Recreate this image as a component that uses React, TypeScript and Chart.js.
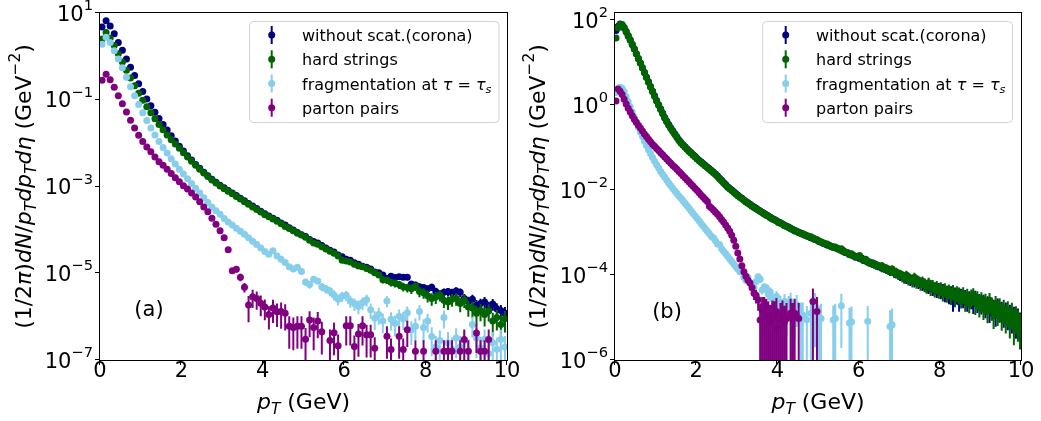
import React, { useEffect, useRef } from 'react';
import { Chart, registerables } from 'chart.js';

Chart.register(...registerables);

// ---------------- labels & styling data ----------------
const seriesNames = ['without scat.(corona)', 'hard strings', 'fragmentation at τ = τ_s', 'parton pairs'];
const seriesColors = ['#000080', '#006400', '#87ceeb', '#800080'];
const xTickValues = [0, 2, 4, 6, 8, 10];
const yTickExpA = [1, -1, -3, -5, -7];
const yTickExpB = [2, 0, -2, -4, -6];

// ---------------- panel (a): pT bin centres (GeV) ----------------
const xA = [
  0.05, 0.15, 0.25, 0.35, 0.45, 0.55, 0.65, 0.75, 0.85, 0.95,
  1.05, 1.15, 1.25, 1.35, 1.45, 1.55, 1.65, 1.75, 1.85, 1.95,
  2.05, 2.15, 2.25, 2.35, 2.45, 2.55, 2.65, 2.75, 2.85, 2.95,
  3.05, 3.15, 3.25, 3.35, 3.45, 3.55, 3.65, 3.75, 3.85, 3.95,
  4.05, 4.15, 4.25, 4.35, 4.45, 4.55, 4.65, 4.75, 4.85, 4.95,
  5.05, 5.15, 5.25, 5.35, 5.45, 5.55, 5.65, 5.75, 5.85, 5.95,
  6.05, 6.15, 6.25, 6.35, 6.45, 6.55, 6.65, 6.75, 6.85, 6.95,
  7.05, 7.15, 7.25, 7.35, 7.45, 7.55, 7.65, 7.75, 7.85, 7.95,
  8.05, 8.15, 8.25, 8.35, 8.45, 8.55, 8.65, 8.75, 8.85, 8.95,
  9.05, 9.15, 9.25, 9.35, 9.45, 9.55, 9.65, 9.75, 9.85, 9.95,
];

// log10 of (1/2pi) dN/pT dpT deta
const logCoronaA = [
  0.68, 0.82, 0.70, 0.52, 0.32, 0.14, -0.06, -0.25, -0.44, -0.63,
  -0.81, -0.98, -1.14, -1.29, -1.43, -1.57, -1.70, -1.83, -1.95, -2.07,
  -2.18, -2.29, -2.39, -2.49, -2.58, -2.67, -2.75, -2.83, -2.90, -2.97,
  -3.03, -3.09, -3.15, -3.21, -3.27, -3.33, -3.39, -3.45, -3.51, -3.57,
  -3.63, -3.68, -3.73, -3.78, -3.84, -3.89, -3.95, -4.00, -4.06, -4.11,
  -4.15, -4.22, -4.27, -4.30, -4.36, -4.42, -4.47, -4.51, -4.58, -4.62,
  -4.68, -4.70, -4.76, -4.79, -4.84, -4.86, -4.90, -4.97, -4.99, -5.04,
  -5.12, -5.07, -5.10, -5.08, -5.09, -5.09, -5.25, -5.27, -5.31, -5.33,
  -5.36, -5.32, -5.42, -5.48, -5.44, -5.42, -5.45, -5.41, -5.44, -5.58,
  -5.65, -5.60, -5.74, -5.70, -5.66, -5.78, -5.71, -5.82, -5.86, -5.92,
];
const logHardA = [
  0.40, 0.55, 0.42, 0.25, 0.06, -0.13, -0.32, -0.50, -0.68, -0.85,
  -1.01, -1.16, -1.30, -1.44, -1.57, -1.69, -1.81, -1.92, -2.02, -2.12,
  -2.22, -2.32, -2.42, -2.51, -2.60, -2.69, -2.77, -2.85, -2.92, -2.99,
  -3.05, -3.11, -3.17, -3.23, -3.29, -3.35, -3.41, -3.47, -3.53, -3.59,
  -3.65, -3.70, -3.75, -3.80, -3.86, -3.92, -3.97, -4.02, -4.08, -4.12,
  -4.17, -4.24, -4.30, -4.33, -4.39, -4.44, -4.49, -4.54, -4.60, -4.70,
  -4.72, -4.74, -4.79, -4.83, -4.85, -4.89, -4.93, -4.99, -5.04, -5.15,
  -5.16, -5.21, -5.23, -5.26, -5.31, -5.33, -5.36, -5.30, -5.42, -5.45,
  -5.52, -5.58, -5.55, -5.50, -5.62, -5.66, -5.60, -5.58, -5.70, -5.62,
  -5.78, -5.80, -5.92, -5.86, -5.95, -5.87, -6.10, -6.02, -6.18, -6.05,
];
const logFragA = [
  0.28, 0.44, 0.32, 0.13, -0.06, -0.26, -0.48, -0.70, -0.91, -1.11,
  -1.30, -1.48, -1.65, -1.81, -1.96, -2.10, -2.23, -2.36, -2.48, -2.60,
  -2.71, -2.82, -2.93, -3.04, -3.15, -3.26, -3.37, -3.47, -3.56, -3.64,
  -3.74, -3.82, -3.89, -3.96, -4.03, -4.10, -4.18, -4.26, -4.34, -4.42,
  -4.50, -4.56, -4.48, -4.60, -4.68, -4.75, -4.85, -4.90, -4.86, -4.96,
  -5.20, -5.26, -5.14, -5.18, -5.31, -5.36, -5.41, -5.50, -5.60, -5.53,
  -5.51, -5.64, -5.70, -5.76, -5.68, -5.61, -5.84, -6.04, -5.95, -6.10,
  -5.64, -6.06, -6.15, -5.99, -6.05, -5.91, -6.30, -6.22, -5.88, -6.25,
  -6.10, -6.46, -6.70, -6.55, -6.02, -6.60, -6.75, -6.49, -6.70, -6.55,
  -6.80, -6.18, -6.49, -6.72, -6.52, -6.85, -6.60, -6.75, -6.53, -6.70,
];
const logPairsA = [
  -0.55, -0.41, -0.54, -0.71, -0.91, -1.09, -1.28, -1.47, -1.65, -1.82,
  -1.96, -2.09, -2.20, -2.32, -2.43, -2.51, -2.60, -2.70, -2.80, -2.89,
  -2.98, -3.06, -3.15, -3.24, -3.35, -3.47, -3.58, -3.73, -3.87, -4.02,
  -4.18, -4.46, -4.94, -4.91, -5.09, -5.32, -5.73, -5.54, -5.58, -5.69,
  -5.78, -5.95, -5.80, -5.89, -5.88, -5.92, -6.22, -6.25, -6.22, -6.22,
  -6.52, -6.08, -6.25, -6.10, -6.35, null, -6.55, -6.37, -6.67, null,
  -6.21, -6.21, -6.69, -6.40, -6.21, -6.42, -6.42, -6.73, null, null,
  -6.45, -6.76, null, -6.45, -6.76, -6.30, null, -6.80, null, -6.80,
  null, null, -6.80, null, -6.80, -6.80, -6.80, null, -6.80, -6.53,
  -6.80, null, -6.38, -6.80, -6.80, -6.53, null, null, null, null,
];

// relative statistical errors (sigma / value)
const errCoronaA = [
  0, 0, 0, 0, 0, 0, 0, 0, 0, 0,
  0, 0, 0, 0, 0, 0, 0, 0, 0, 0,
  0, 0, 0, 0, 0, 0, 0, 0, 0, 0,
  0, 0, 0, 0, 0, 0, 0, 0, 0, 0,
  0, 0, 0, 0, 0, 0, 0, 0, 0, 0,
  0.04, 0.05, 0.05, 0.06, 0.05, 0.06, 0.07, 0.06, 0.07, 0.08,
  0.08, 0.09, 0.09, 0.1, 0.1, 0.11, 0.1, 0.12, 0.12, 0.13,
  0.12, 0.14, 0.13, 0.15, 0.14, 0.15, 0.17, 0.18, 0.17, 0.19,
  0.2, 0.19, 0.22, 0.24, 0.22, 0.21, 0.23, 0.22, 0.23, 0.27,
  0.28, 0.27, 0.32, 0.3, 0.29, 0.33, 0.3, 0.34, 0.35, 0.38,
];
const errHardA = [
  0, 0, 0, 0, 0, 0, 0, 0, 0, 0,
  0, 0, 0, 0, 0, 0, 0, 0, 0, 0,
  0, 0, 0, 0, 0, 0, 0, 0, 0, 0,
  0, 0, 0, 0, 0, 0, 0, 0, 0, 0,
  0, 0, 0, 0, 0, 0, 0, 0, 0, 0,
  0.05, 0.06, 0.06, 0.06, 0.07, 0.07, 0.08, 0.08, 0.09, 0.1,
  0.1, 0.1, 0.11, 0.12, 0.12, 0.13, 0.13, 0.15, 0.15, 0.18,
  0.18, 0.2, 0.2, 0.21, 0.23, 0.23, 0.24, 0.22, 0.26, 0.27,
  0.3, 0.32, 0.31, 0.29, 0.34, 0.35, 0.33, 0.32, 0.37, 0.34,
  0.4, 0.41, 0.46, 0.43, 0.47, 0.43, 0.55, 0.5, 0.58, 0.52,
];
const errFragA = [
  0, 0, 0, 0, 0, 0, 0, 0, 0, 0,
  0, 0, 0, 0, 0, 0, 0, 0, 0, 0,
  0, 0, 0, 0, 0, 0, 0, 0, 0, 0,
  0, 0, 0, 0, 0, 0, 0, 0, 0, 0,
  0.06, 0.07, 0.06, 0.08, 0.09, 0.1, 0.11, 0.12, 0.11, 0.13,
  0.18, 0.2, 0.16, 0.17, 0.21, 0.22, 0.24, 0.26, 0.28, 0.26,
  0.26, 0.3, 0.32, 0.35, 0.32, 0.3, 0.38, 0.46, 0.42, 0.48,
  0.28, 0.45, 0.5, 0.42, 0.45, 0.4, 0.56, 0.52, 0.38, 0.54,
  0.46, 0.65, 0.8, 0.7, 0.44, 0.75, 0.85, 0.66, 0.8, 0.7,
  0.85, 0.5, 0.66, 0.8, 0.68, 0.9, 0.75, 0.85, 0.68, 0.8,
];
const errPairsA = [
  0, 0, 0, 0, 0, 0, 0, 0, 0, 0,
  0, 0, 0, 0, 0, 0, 0, 0, 0, 0,
  0, 0, 0, 0, 0, 0, 0, 0, 0.03, 0.04,
  0.06, 0.08, 0.15, 0.15, 0.2, 0.25, 0.6, 0.45, 0.45, 0.5,
  0.5, 0.55, 0.55, 0.55, 0.6, 0.6, 0.7, 0.7, 0.7, 0.7,
  0.8, 0.6, 0.7, 0.6, 0.7, 0, 0.8, 0.7, 0.8, 0,
  0.65, 0.65, 0.8, 0.7, 0.65, 0.7, 0.7, 0.8, 0, 0,
  0.7, 0.8, 0, 0.7, 0.8, 0.6, 0, 0.8, 0, 0.8,
  0, 0, 0.8, 0, 0.8, 0.8, 0.8, 0, 0.8, 0.7,
  0.8, 0, 0.65, 0.8, 0.8, 0.7, 0, 0, 0, 0,
];

// ---------------- panel (b): pT bin centres (GeV) ----------------
const xB = [
  0.025, 0.075, 0.125, 0.175, 0.225, 0.275, 0.325, 0.375, 0.425, 0.475,
  0.525, 0.575, 0.625, 0.675, 0.725, 0.775, 0.825, 0.875, 0.925, 0.975,
  1.025, 1.075, 1.125, 1.175, 1.225, 1.275, 1.325, 1.375, 1.425, 1.475,
  1.525, 1.575, 1.625, 1.675, 1.725, 1.775, 1.825, 1.875, 1.925, 1.975,
  2.025, 2.075, 2.125, 2.175, 2.225, 2.275, 2.325, 2.375, 2.425, 2.475,
  2.525, 2.575, 2.625, 2.675, 2.725, 2.775, 2.825, 2.875, 2.925, 2.975,
  3.025, 3.075, 3.125, 3.175, 3.225, 3.275, 3.325, 3.375, 3.425, 3.475,
  3.525, 3.575, 3.625, 3.675, 3.725, 3.775, 3.825, 3.875, 3.925, 3.975,
  4.025, 4.075, 4.125, 4.175, 4.225, 4.275, 4.325, 4.375, 4.425, 4.475,
  4.525, 4.575, 4.625, 4.675, 4.725, 4.775, 4.825, 4.875, 4.925, 4.975,
  5.025, 5.075, 5.125, 5.175, 5.225, 5.275, 5.325, 5.375, 5.425, 5.475,
  5.525, 5.575, 5.625, 5.675, 5.725, 5.775, 5.825, 5.875, 5.925, 5.975,
  6.025, 6.075, 6.125, 6.175, 6.225, 6.275, 6.325, 6.375, 6.425, 6.475,
  6.525, 6.575, 6.625, 6.675, 6.725, 6.775, 6.825, 6.875, 6.925, 6.975,
  7.025, 7.075, 7.125, 7.175, 7.225, 7.275, 7.325, 7.375, 7.425, 7.475,
  7.525, 7.575, 7.625, 7.675, 7.725, 7.775, 7.825, 7.875, 7.925, 7.975,
  8.025, 8.075, 8.125, 8.175, 8.225, 8.275, 8.325, 8.375, 8.425, 8.475,
  8.525, 8.575, 8.625, 8.675, 8.725, 8.775, 8.825, 8.875, 8.925, 8.975,
  9.025, 9.075, 9.125, 9.175, 9.225, 9.275, 9.325, 9.375, 9.425, 9.475,
  9.525, 9.575, 9.625, 9.675, 9.725, 9.775, 9.825, 9.875, 9.925, 9.975,
];

const logCoronaB = [
  1.76, 1.85, 1.91, 1.89, 1.82, 1.73, 1.63, 1.53, 1.43, 1.32,
  1.21, 1.10, 0.99, 0.88, 0.77, 0.66, 0.55, 0.44, 0.33, 0.22,
  0.11, 0.01, -0.09, -0.19, -0.29, -0.38, -0.46, -0.54, -0.61, -0.68,
  -0.75, -0.82, -0.88, -0.93, -0.98, -1.03, -1.08, -1.12, -1.17, -1.21,
  -1.26, -1.30, -1.34, -1.38, -1.42, -1.46, -1.50, -1.54, -1.58, -1.62,
  -1.67, -1.72, -1.77, -1.82, -1.87, -1.92, -1.96, -2.00, -2.04, -2.08,
  -2.12, -2.16, -2.19, -2.23, -2.27, -2.30, -2.33, -2.37, -2.40, -2.43,
  -2.46, -2.49, -2.52, -2.55, -2.58, -2.61, -2.64, -2.67, -2.69, -2.72,
  -2.75, -2.77, -2.80, -2.83, -2.85, -2.87, -2.90, -2.93, -2.95, -2.97,
  -3.00, -3.01, -3.04, -3.05, -3.08, -3.09, -3.12, -3.13, -3.16, -3.17,
  -3.21, -3.22, -3.25, -3.26, -3.29, -3.30, -3.33, -3.34, -3.36, -3.37,
  -3.39, -3.42, -3.43, -3.47, -3.48, -3.50, -3.53, -3.54, -3.58, -3.57,
  -3.61, -3.60, -3.66, -3.67, -3.68, -3.72, -3.71, -3.76, -3.75, -3.80,
  -3.79, -3.84, -3.82, -3.87, -3.86, -3.92, -3.91, -3.94, -3.97, -3.96,
  -4.02, -4.00, -4.05, -4.08, -4.04, -4.12, -4.10, -4.15, -4.11, -4.18,
  -4.16, -4.22, -4.19, -4.25, -4.28, -4.24, -4.32, -4.29, -4.36, -4.31,
  -4.38, -4.34, -4.44, -4.38, -4.48, -4.40, -4.63, -4.43, -4.47, -4.63,
  -4.46, -4.55, -4.50, -4.62, -4.53, -4.57, -4.66, -4.52, -4.64, -4.60,
  -4.67, -4.62, -4.74, -4.66, -4.83, -4.70, -4.75, -4.90, -4.72, -4.82,
  -4.80, -4.92, -4.82, -4.96, -4.88, -5.02, -4.93, -5.12, -4.98, -5.08,
];
const logHardB = [
  1.58, 1.82, 1.90, 1.90, 1.83, 1.74, 1.64, 1.54, 1.43, 1.33,
  1.21, 1.10, 0.99, 0.88, 0.77, 0.66, 0.54, 0.43, 0.32, 0.21,
  0.10, 0.00, -0.10, -0.20, -0.30, -0.39, -0.47, -0.55, -0.62, -0.69,
  -0.76, -0.83, -0.89, -0.94, -0.99, -1.04, -1.09, -1.13, -1.18, -1.22,
  -1.27, -1.31, -1.35, -1.39, -1.43, -1.47, -1.51, -1.55, -1.59, -1.63,
  -1.68, -1.73, -1.78, -1.83, -1.88, -1.93, -1.97, -2.01, -2.05, -2.09,
  -2.13, -2.17, -2.20, -2.24, -2.28, -2.31, -2.34, -2.38, -2.41, -2.44,
  -2.47, -2.50, -2.53, -2.56, -2.59, -2.61, -2.65, -2.68, -2.70, -2.72,
  -2.76, -2.78, -2.80, -2.84, -2.85, -2.88, -2.91, -2.92, -2.96, -2.97,
  -2.99, -3.02, -3.03, -3.06, -3.07, -3.10, -3.10, -3.14, -3.15, -3.18,
  -3.20, -3.23, -3.24, -3.27, -3.27, -3.31, -3.32, -3.35, -3.34, -3.38,
  -3.40, -3.38, -3.45, -3.46, -3.47, -3.52, -3.50, -3.55, -3.56, -3.57,
  -3.54, -3.63, -3.65, -3.63, -3.70, -3.69, -3.74, -3.72, -3.78, -3.77,
  -3.80, -3.78, -3.85, -3.83, -3.88, -3.90, -3.86, -3.95, -3.92, -3.99,
  -3.97, -4.03, -4.06, -4.00, -4.10, -4.08, -4.14, -4.05, -4.16, -4.13,
  -4.20, -4.15, -4.23, -4.26, -4.18, -4.30, -4.24, -4.33, -4.27, -4.35,
  -4.30, -4.40, -4.33, -4.42, -4.36, -4.46, -4.38, -4.50, -4.41, -4.45,
  -4.52, -4.44, -4.58, -4.48, -4.60, -4.50, -4.47, -4.62, -4.55, -4.66,
  -4.58, -4.70, -4.62, -4.76, -4.60, -4.72, -4.85, -4.68, -4.80, -4.74,
  -4.88, -4.78, -4.92, -4.82, -5.00, -4.86, -5.10, -4.95, -5.05, -5.15,
];
const logFragB = [
  0.30, 0.38, 0.42, 0.40, 0.32, 0.20, 0.08, -0.04, -0.16, -0.28,
  -0.40, -0.52, -0.63, -0.74, -0.85, -0.95, -1.05, -1.14, -1.23, -1.32,
  -1.40, -1.48, -1.56, -1.63, -1.70, -1.77, -1.84, -1.90, -1.96, -2.02,
  -2.08, -2.14, -2.19, -2.25, -2.31, -2.37, -2.43, -2.49, -2.55, -2.61,
  -2.67, -2.73, -2.79, -2.85, -2.91, -2.97, -3.03, -3.09, -3.12, -3.19,
  -3.27, -3.28, -3.38, -3.44, -3.50, -3.56, -3.62, -3.68, -3.74, -3.80,
  -3.86, -3.92, -3.90, -4.05, -4.12, -4.05, -4.18, -4.24, -4.30, -4.15,
  -4.04, -4.10, -4.35, -4.28, -4.30, -4.45, -4.40, -4.55, -4.62, -4.50,
  -4.75, -4.66, -4.80, -4.62, -4.90, -4.70, -4.62, null, -4.85, -4.70,
  null, -4.95, -4.94, null, -5.05, null, -4.90, null, -4.70, null,
  -5.06, -5.02, null, null, null, null, null, -5.06, -5.02, null,
  null, -4.72, null, null, null, -5.13, -5.10, null, null, null,
  null, null, null, null, -5.09, null, null, null, null, null,
  null, null, null, null, null, -5.21, -5.17, null, null, null,
  null, null, null, null, null, null, null, null, null, null,
  null, null, null, null, null, null, null, null, null, null,
  null, null, null, null, null, null, null, null, null, null,
  null, null, null, null, null, null, null, null, null, null,
  null, null, null, null, null, null, null, null, null, null,
  null, null, null, null, null, null, null, null, null, null,
];
const logPairsB = [
  0.10, 0.38, 0.33, 0.25, 0.14, 0.03, -0.07, -0.16, -0.25, -0.33,
  -0.40, -0.47, -0.54, -0.61, -0.68, -0.74, -0.80, -0.86, -0.92, -0.97,
  -1.02, -1.07, -1.12, -1.17, -1.22, -1.27, -1.32, -1.37, -1.42, -1.46,
  -1.51, -1.56, -1.61, -1.66, -1.71, -1.76, -1.81, -1.86, -1.91, -1.96,
  -2.01, -2.06, -2.12, -2.17, -2.22, -2.27, -2.38, -2.42, -2.47, -2.52,
  -2.57, -2.63, -2.69, -2.75, -2.82, -2.89, -2.97, -3.06, -3.18, -3.32,
  -3.48, -3.62, -3.78, -3.92, -4.03, -4.12, -4.19, -4.30, -4.43, -4.48,
  -4.58, -5.06, -4.82, -4.82, -4.90, -4.98, -5.10, -4.94, -4.98, -4.86,
  -5.25, -5.02, -4.94, -5.10, -5.02, null, -4.90, -5.02, -4.90, null,
  -5.02, null, null, null, null, null, null, -4.62, null, -4.86,
  null, null, null, null, null, null, null, null, null, null,
  null, null, null, null, null, null, null, null, null, null,
  null, null, null, null, null, null, null, null, null, null,
  null, null, null, null, null, null, null, null, null, null,
  null, null, null, null, null, null, null, null, null, null,
  null, null, null, null, null, null, null, null, null, null,
  null, null, null, null, null, null, null, null, null, null,
  null, null, null, null, null, null, null, null, null, null,
  null, null, null, null, null, null, null, null, null, null,
  null, null, null, null, null, null, null, null, null, null,
];

const errCoronaB = [
  0, 0, 0, 0, 0, 0, 0, 0, 0, 0,
  0, 0, 0, 0, 0, 0, 0, 0, 0, 0,
  0, 0, 0, 0, 0, 0, 0, 0, 0, 0,
  0, 0, 0, 0, 0, 0, 0, 0, 0, 0,
  0, 0, 0, 0, 0, 0, 0, 0, 0, 0,
  0, 0, 0, 0, 0, 0, 0, 0, 0, 0,
  0, 0, 0, 0, 0, 0, 0, 0, 0, 0,
  0, 0, 0, 0, 0, 0, 0, 0, 0, 0,
  0, 0, 0, 0, 0, 0, 0, 0, 0, 0,
  0, 0, 0, 0, 0, 0, 0, 0, 0, 0,
  0.06, 0.05, 0.07, 0.06, 0.08, 0.07, 0.08, 0.09, 0.08, 0.09,
  0.09, 0.1, 0.09, 0.11, 0.1, 0.12, 0.11, 0.12, 0.13, 0.12,
  0.13, 0.14, 0.13, 0.15, 0.14, 0.16, 0.15, 0.17, 0.16, 0.18,
  0.17, 0.19, 0.18, 0.2, 0.19, 0.21, 0.2, 0.22, 0.23, 0.22,
  0.24, 0.23, 0.25, 0.26, 0.25, 0.27, 0.26, 0.28, 0.27, 0.29,
  0.28, 0.3, 0.29, 0.31, 0.32, 0.31, 0.33, 0.32, 0.34, 0.33,
  0.35, 0.34, 0.37, 0.35, 0.38, 0.36, 0.42, 0.37, 0.39, 0.42,
  0.38, 0.41, 0.4, 0.43, 0.41, 0.42, 0.45, 0.41, 0.44, 0.43,
  0.45, 0.44, 0.47, 0.45, 0.5, 0.47, 0.48, 0.52, 0.47, 0.5,
  0.49, 0.52, 0.5, 0.54, 0.52, 0.56, 0.53, 0.58, 0.55, 0.57,
];
const errHardB = [
  0, 0, 0, 0, 0, 0, 0, 0, 0, 0,
  0, 0, 0, 0, 0, 0, 0, 0, 0, 0,
  0, 0, 0, 0, 0, 0, 0, 0, 0, 0,
  0, 0, 0, 0, 0, 0, 0, 0, 0, 0,
  0, 0, 0, 0, 0, 0, 0, 0, 0, 0,
  0, 0, 0, 0, 0, 0, 0, 0, 0, 0,
  0, 0, 0, 0, 0, 0, 0, 0, 0, 0,
  0, 0, 0, 0, 0, 0, 0, 0, 0, 0,
  0, 0, 0, 0, 0, 0, 0, 0, 0, 0,
  0, 0, 0, 0, 0, 0, 0, 0, 0, 0,
  0.07, 0.06, 0.08, 0.07, 0.08, 0.08, 0.09, 0.1, 0.09, 0.1,
  0.1, 0.1, 0.11, 0.12, 0.11, 0.13, 0.12, 0.13, 0.14, 0.13,
  0.14, 0.15, 0.15, 0.16, 0.17, 0.16, 0.18, 0.17, 0.19, 0.18,
  0.19, 0.2, 0.21, 0.2, 0.22, 0.23, 0.22, 0.24, 0.23, 0.25,
  0.25, 0.27, 0.28, 0.26, 0.29, 0.28, 0.3, 0.28, 0.31, 0.3,
  0.32, 0.3, 0.33, 0.34, 0.31, 0.36, 0.33, 0.37, 0.35, 0.38,
  0.36, 0.4, 0.37, 0.41, 0.38, 0.43, 0.4, 0.45, 0.41, 0.43,
  0.46, 0.42, 0.48, 0.44, 0.5, 0.45, 0.44, 0.52, 0.47, 0.54,
  0.5, 0.56, 0.52, 0.58, 0.51, 0.56, 0.62, 0.54, 0.6, 0.57,
  0.63, 0.58, 0.65, 0.6, 0.68, 0.62, 0.72, 0.64, 0.7, 0.75,
];
const errFragB = [
  0, 0, 0, 0, 0, 0, 0, 0, 0, 0,
  0, 0, 0, 0, 0, 0, 0, 0, 0, 0,
  0, 0, 0, 0, 0, 0, 0, 0, 0, 0,
  0, 0, 0, 0, 0, 0, 0, 0, 0, 0,
  0, 0, 0, 0, 0, 0, 0, 0, 0, 0,
  0, 0, 0, 0, 0, 0, 0, 0, 0, 0,
  0.06, 0.07, 0.07, 0.09, 0.1, 0.1, 0.12, 0.13, 0.15, 0.14,
  0.16, 0.18, 0.22, 0.22, 0.24, 0.28, 0.28, 0.32, 0.36, 0.34,
  0.5, 0.48, 0.6, 0.5, 0.7, 0.6, 0.6, 0, 0.8, 0.7,
  0, 1.0, 1.0, 0, 1.1, 0, 1.0, 0, 0.9, 0,
  1.2, 1.2, 0, 0, 0, 0, 0, 1.2, 1.2, 0,
  0, 0.9, 0, 0, 0, 1.3, 1.3, 0, 0, 0,
  0, 0, 0, 0, 1.3, 0, 0, 0, 0, 0,
  0, 0, 0, 0, 0, 1.4, 1.4, 0, 0, 0,
  0, 0, 0, 0, 0, 0, 0, 0, 0, 0,
  0, 0, 0, 0, 0, 0, 0, 0, 0, 0,
  0, 0, 0, 0, 0, 0, 0, 0, 0, 0,
  0, 0, 0, 0, 0, 0, 0, 0, 0, 0,
  0, 0, 0, 0, 0, 0, 0, 0, 0, 0,
  0, 0, 0, 0, 0, 0, 0, 0, 0, 0,
];
const errPairsB = [
  0, 0, 0, 0, 0, 0, 0, 0, 0, 0,
  0, 0, 0, 0, 0, 0, 0, 0, 0, 0,
  0, 0, 0, 0, 0, 0, 0, 0, 0, 0,
  0, 0, 0, 0, 0, 0, 0, 0, 0, 0,
  0, 0, 0, 0, 0, 0, 0, 0, 0, 0,
  0, 0, 0, 0, 0, 0, 0, 0, 0, 0,
  0.05, 0.06, 0.08, 0.1, 0.12, 0.15, 0.18, 0.2, 0.3, 0.35,
  0.45, 1.5, 1.0, 1.0, 1.2, 1.3, 1.5, 1.2, 1.3, 1.1,
  1.5, 1.3, 1.2, 1.4, 1.3, 0, 1.2, 1.3, 1.2, 0,
  1.3, 0, 0, 0, 0, 0, 0, 1.0, 0, 1.2,
  0, 0, 0, 0, 0, 0, 0, 0, 0, 0,
  0, 0, 0, 0, 0, 0, 0, 0, 0, 0,
  0, 0, 0, 0, 0, 0, 0, 0, 0, 0,
  0, 0, 0, 0, 0, 0, 0, 0, 0, 0,
  0, 0, 0, 0, 0, 0, 0, 0, 0, 0,
  0, 0, 0, 0, 0, 0, 0, 0, 0, 0,
  0, 0, 0, 0, 0, 0, 0, 0, 0, 0,
  0, 0, 0, 0, 0, 0, 0, 0, 0, 0,
  0, 0, 0, 0, 0, 0, 0, 0, 0, 0,
  0, 0, 0, 0, 0, 0, 0, 0, 0, 0,
];

// ---------------- rich text helpers ----------------
type Part = { t: string; it?: boolean; sub?: boolean; sup?: boolean };
const FONT = '"DejaVu Sans"';

function parseRich(s: string): Part[] {
  const parts: Part[] = [];
  let buf = '';
  const flush = () => {
    if (buf) { parts.push({ t: buf }); buf = ''; }
  };
  for (let i = 0; i < s.length; i++) {
    const c = s[i];
    if (c === 'τ') { flush(); parts.push({ t: c, it: true }); }
    else if (c === '_' && i + 1 < s.length) { flush(); parts.push({ t: s[i + 1], it: true, sub: true }); i++; }
    else buf += c;
  }
  flush();
  return parts;
}

function partFont(p: Part, size: number) {
  const s = p.sub || p.sup ? size * 0.7 : size;
  return `${p.it ? 'italic ' : ''}${s}px ${FONT}`;
}

function drawParts(ctx: CanvasRenderingContext2D, parts: Part[], size: number, x: number, y: number, align: 'left' | 'center' | 'right') {
  let w = 0;
  for (const p of parts) { ctx.font = partFont(p, size); w += ctx.measureText(p.t).width; }
  let cx = align === 'center' ? x - w / 2 : align === 'right' ? x - w : x;
  ctx.textAlign = 'left';
  ctx.textBaseline = 'alphabetic';
  for (const p of parts) {
    ctx.font = partFont(p, size);
    const dy = p.sub ? size * 0.22 : p.sup ? -size * 0.5 : 0;
    ctx.fillText(p.t, cx, y + dy);
    cx += ctx.measureText(p.t).width;
  }
}

const yTitleParts: Part[] = [
  { t: '(1/2' }, { t: 'π', it: true }, { t: ')' }, { t: 'dN', it: true }, { t: '/' },
  { t: 'p', it: true }, { t: 'T', it: true, sub: true }, { t: 'dp', it: true }, { t: 'T', it: true, sub: true },
  { t: 'dη', it: true }, { t: ' (GeV' }, { t: '−2', sup: true }, { t: ')' },
];
const xTitleParts: Part[] = [{ t: 'p', it: true }, { t: 'T', it: true, sub: true }, { t: ' (GeV)' }];

// ---------------- panel configuration ----------------
type PanelCfg = {
  tag: string;
  x: number[];
  logs: (number | null)[][];
  errs: number[][];
  yMinExp: number;
  yMaxExp: number;
  yTicks: number[];
  left: number;
  width: number;
  padding: { left: number; top: number; right: number; bottom: number };
  legend: { x0: number; y0: number; x1: number; y1: number; markerX: number; textX: number; rows: number[] };
  tagPos: { x: number; y: number };
  yTitleX: number;
};

const panelA: PanelCfg = {
  tag: '(a)',
  x: xA,
  logs: [logCoronaA, logHardA, logFragA, logPairsA],
  errs: [errCoronaA, errHardA, errFragA, errPairsA],
  yMinExp: -7,
  yMaxExp: 1,
  yTicks: yTickExpA,
  left: 0,
  width: 520,
  padding: { left: 100, top: 13, right: 13, bottom: 61 },
  legend: { x0: 249.5, y0: 21.5, x1: 499, y1: 122.5, markerX: 271.7, textX: 302, rows: [35, 59.3, 83.5, 107.7] },
  tagPos: { x: 149, y: 309 },
  yTitleX: 25,
};

const panelB: PanelCfg = {
  tag: '(b)',
  x: xB,
  logs: [logCoronaB, logHardB, logFragB, logPairsB],
  errs: [errCoronaB, errHardB, errFragB, errPairsB],
  yMinExp: -6,
  yMaxExp: 2.17,
  yTicks: yTickExpB,
  left: 520,
  width: 521,
  padding: { left: 95, top: 13, right: 20, bottom: 61 },
  legend: { x0: 242.7, y0: 21.5, x1: 492.5, y1: 122.5, markerX: 265.7, textX: 296, rows: [35, 59.3, 83.5, 107.7] },
  tagPos: { x: 147, y: 311 },
  yTitleX: 18.5,
};

function roundRect(ctx: CanvasRenderingContext2D, x0: number, y0: number, x1: number, y1: number, r: number) {
  ctx.beginPath();
  ctx.moveTo(x0 + r, y0);
  ctx.lineTo(x1 - r, y0);
  ctx.arcTo(x1, y0, x1, y0 + r, r);
  ctx.lineTo(x1, y1 - r);
  ctx.arcTo(x1, y1, x1 - r, y1, r);
  ctx.lineTo(x0 + r, y1);
  ctx.arcTo(x0, y1, x0, y1 - r, r);
  ctx.lineTo(x0, y0 + r);
  ctx.arcTo(x0, y0, x0 + r, y0, r);
  ctx.closePath();
}

function makePlugin(cfg: PanelCfg) {
  return {
    id: 'panelDecor',
    beforeDraw(chart: any) {
      const ctx = chart.ctx;
      ctx.save();
      ctx.fillStyle = '#ffffff';
      ctx.fillRect(0, 0, chart.width, chart.height);
      ctx.restore();
    },
    beforeDatasetDraw(chart: any, args: any) {
      const ds: any = chart.data.datasets[args.index];
      const errs: number[] = ds.errs;
      if (!errs) return;
      const ys = chart.scales.y;
      const a = chart.chartArea;
      const ctx: CanvasRenderingContext2D = chart.ctx;
      ctx.save();
      ctx.beginPath();
      ctx.rect(a.left, a.top, a.right - a.left, a.bottom - a.top);
      ctx.clip();
      ctx.strokeStyle = ds.backgroundColor;
      ctx.lineWidth = 2;
      ctx.beginPath();
      args.meta.data.forEach((el: any, i: number) => {
        const r = errs[i];
        const d = ds.data[i];
        if (!r || d.y == null) return;
        const top = ys.getPixelForValue(d.y * (1 + r));
        const lowV = d.y * (1 - r);
        const bot = lowV > 0 ? ys.getPixelForValue(lowV) : a.bottom + 10;
        ctx.moveTo(el.x, top);
        ctx.lineTo(el.x, bot);
      });
      ctx.stroke();
      ctx.restore();
    },
    afterDraw(chart: any) {
      const ctx: CanvasRenderingContext2D = chart.ctx;
      const a = chart.chartArea;
      const xs = chart.scales.x;
      const ys = chart.scales.y;
      ctx.save();
      ctx.fillStyle = '#000';
      ctx.strokeStyle = '#000';
      ctx.lineWidth = 1;
      ctx.strokeRect(a.left - 0.5, a.top - 0.5, a.right - a.left + 1, a.bottom - a.top + 1);
      // y ticks
      ctx.beginPath();
      for (const e of cfg.yTicks) {
        const y = Math.round(ys.getPixelForValue(Math.pow(10, e))) - 0.5;
        ctx.moveTo(a.left - 5, y);
        ctx.lineTo(a.left, y);
      }
      // x ticks
      for (const v of xTickValues) {
        const x = Math.round(xs.getPixelForValue(v)) - 0.5;
        ctx.moveTo(x, a.bottom);
        ctx.lineTo(x, a.bottom + 5);
      }
      ctx.stroke();
      for (const e of cfg.yTicks) {
        const y = ys.getPixelForValue(Math.pow(10, e));
        const es = e < 0 ? '−' + Math.abs(e) : String(e);
        drawParts(ctx, [{ t: '10' }, { t: es, sup: true }], 21, a.left - 7, y + 7.5, 'right');
      }
      for (const v of xTickValues) {
        drawParts(ctx, [{ t: String(v) }], 21, xs.getPixelForValue(v), a.bottom + 17, 'center');
      }
      // axis titles
      drawParts(ctx, xTitleParts, 22, (a.left + a.right) / 2, 409, 'center');
      ctx.save();
      ctx.translate(cfg.yTitleX, (a.top + a.bottom) / 2);
      ctx.rotate(-Math.PI / 2);
      drawParts(ctx, yTitleParts, 22, 0, 6, 'center');
      ctx.restore();
      // panel tag
      drawParts(ctx, [{ t: cfg.tag }], 21, cfg.tagPos.x, cfg.tagPos.y + 7, 'center');
      // legend
      const L = cfg.legend;
      roundRect(ctx, L.x0, L.y0, L.x1, L.y1, 4);
      ctx.fillStyle = 'rgba(255,255,255,0.8)';
      ctx.fill();
      ctx.strokeStyle = '#d3d3d3';
      ctx.lineWidth = 1;
      ctx.stroke();
      seriesNames.forEach((name, i) => {
        const y = L.rows[i];
        ctx.strokeStyle = seriesColors[i];
        ctx.fillStyle = seriesColors[i];
        ctx.lineWidth = 2;
        ctx.beginPath();
        ctx.moveTo(L.markerX, y - 9);
        ctx.lineTo(L.markerX, y + 9);
        ctx.stroke();
        ctx.beginPath();
        ctx.arc(L.markerX, y, 3.5, 0, Math.PI * 2);
        ctx.fill();
        ctx.fillStyle = '#000';
        drawParts(ctx, parseRich(name), 16, L.textX, y + 6, 'left');
      });
      ctx.restore();
    },
  };
}

function Panel({ cfg }: { cfg: PanelCfg }) {
  const ref = useRef<HTMLCanvasElement>(null);
  useEffect(() => {
    const n = cfg.logs.length;
    const datasets = cfg.logs.map((arr, si) => ({
      label: seriesNames[si],
      data: arr.map((v, i) => ({ x: cfg.x[i], y: v == null ? null : Math.pow(10, v) })),
      errs: cfg.errs[si],
      backgroundColor: seriesColors[si],
      borderColor: seriesColors[si],
      pointRadius: 3.5,
      pointBorderWidth: 0,
      pointHoverRadius: 3.5,
      showLine: false,
      clip: 0,
      // later series are painted on top (as in the reference)
      order: n - 1 - si,
    }));
    const chart = new Chart(ref.current as HTMLCanvasElement, {
      type: 'scatter',
      data: { datasets: datasets as any },
      options: {
        animation: false,
        responsive: false,
        maintainAspectRatio: false,
        devicePixelRatio: 1,
        events: [],
        layout: { padding: cfg.padding },
        scales: {
          x: { type: 'linear', min: 0, max: 10, display: false },
          y: { type: 'logarithmic', min: Math.pow(10, cfg.yMinExp), max: Math.pow(10, cfg.yMaxExp), display: false },
        },
        plugins: { legend: { display: false }, tooltip: { enabled: false } },
      },
      plugins: [makePlugin(cfg) as any],
    });
    return () => chart.destroy();
  }, [cfg]);
  return (
    <canvas
      ref={ref}
      width={cfg.width}
      height={421}
      style={{ position: 'absolute', left: cfg.left, top: 0, width: cfg.width, height: 421 }}
    />
  );
}

export default function App() {
  return (
    <div style={{ position: 'fixed', left: 0, top: 0, width: 1041, height: 421, background: '#fff' }}>
      <Panel cfg={panelA} />
      <Panel cfg={panelB} />
    </div>
  );
}
